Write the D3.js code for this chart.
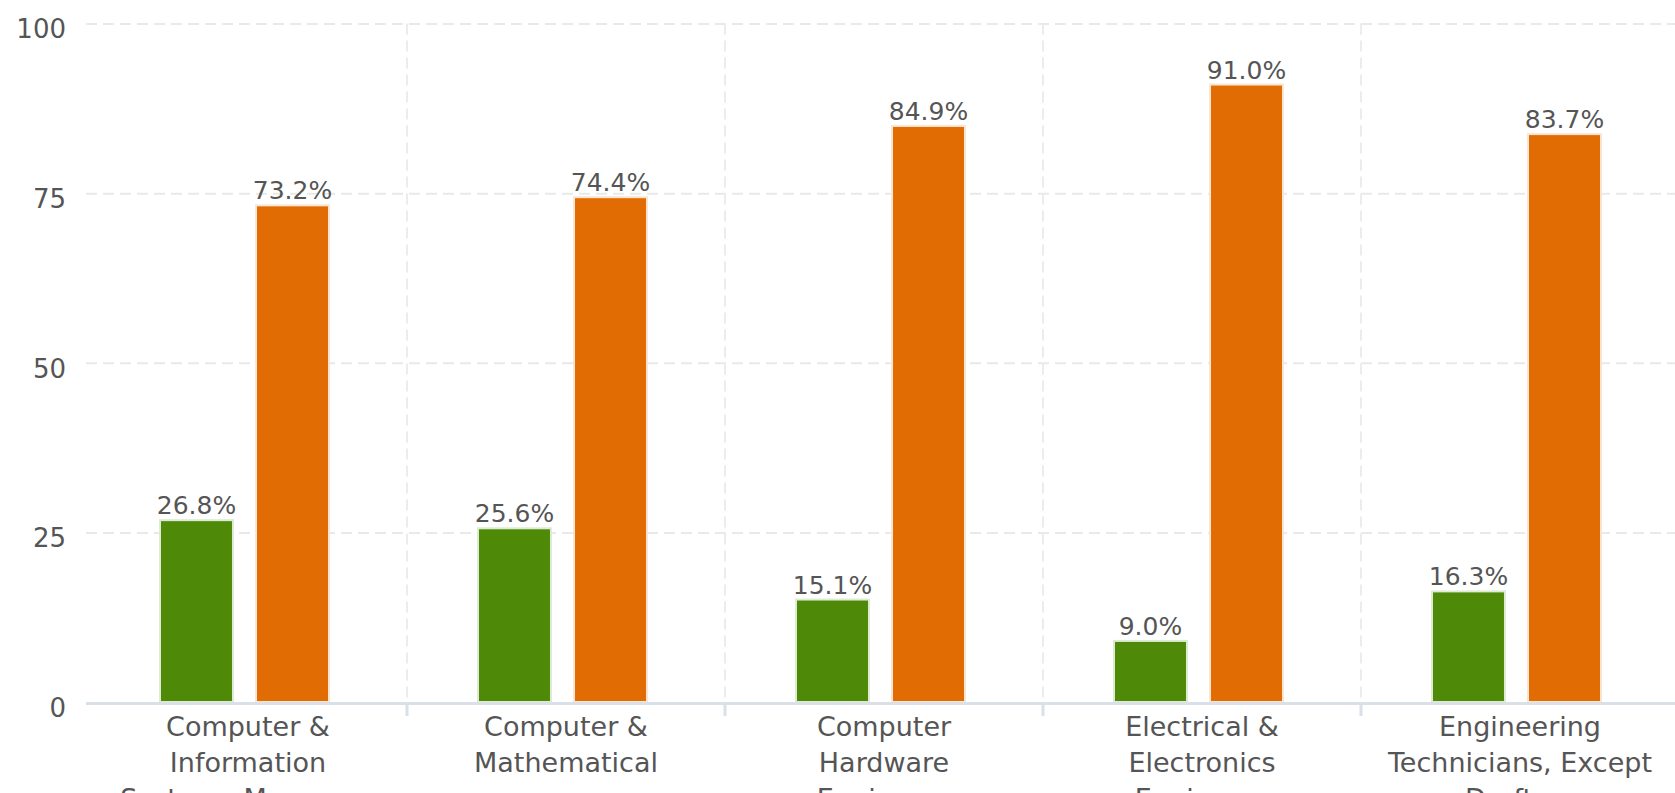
<!DOCTYPE html>
<html>
<head>
<meta charset="utf-8">
<script src="https://cdn.jsdelivr.net/npm/d3@7"></script>
<style>
  body { margin: 0; background: #fff; overflow: hidden; }
  text { font-family: "DejaVu Sans", Verdana, sans-serif; fill: #555; }
</style>
</head>
<body>
<div id="chart"></div>
<script>
// chart values
const categories = [
    "Computer &\nInformation\nSystems Managers",
    "Computer &\nMathematical",
    "Computer\nHardware\nEngineers",
    "Electrical &\nElectronics\nEngineers",
    "Engineering\nTechnicians, Except\nDrafters"
];
const seriesNames = ["Women", "Men"];
const women = [26.8, 25.6, 15.1, 9.0, 16.3];
const men = [73.2, 74.4, 84.9, 91.0, 83.7];
const yTicks = [0, 25, 50, 75, 100];
const colors = ["#4e8907", "#e16c03"];

const chartW = 1675, chartH = 793;
const plotLeft = 89, plotTop = 23.5, plotBottom = 702;
const band = 318;

let svg = d3.select("#chart")
    .append("svg")
    .attr("width", chartW)
    .attr("height", chartH);

let x = d3.scaleBand()
    .domain(categories)
    .range([plotLeft, plotLeft + band * categories.length])
    .padding(0);

let x1 = d3.scaleBand()
    .domain(seriesNames)
    .range([71, 240])
    .paddingInner(0.24);

let y = d3.scaleLinear()
    .domain([0, 100])
    .range([plotBottom, plotTop]);

// horizontal grid + y labels
let yAxis = svg.append("g")
    .attr("transform", `translate(86,0)`)
    .call(d3.axisLeft(y).tickValues(yTicks).tickSize(-(chartW - 86)).tickPadding(20));
yAxis.select(".domain").remove();
yAxis.selectAll(".tick line")
    .attr("stroke", "#e9e9e9")
    .attr("stroke-width", 2)
    .attr("stroke-dasharray", "11,6")
    .attr("opacity", d => d === 0 ? 0 : 1);
yAxis.selectAll(".tick text")
    .attr("font-size", 26)
    .attr("fill", "#555")
    .attr("dy", "0.55em")
    .style("font-family", '"DejaVu Sans", Verdana, sans-serif');

// vertical grid at category boundaries
let bounds = categories.slice(1).map(c => x(c));
svg.append("g").selectAll("line")
    .data(bounds)
    .enter()
    .append("line")
    .attr("x1", d => d).attr("x2", d => d)
    .attr("y1", plotTop).attr("y2", plotBottom)
    .attr("stroke", "#ececec")
    .attr("stroke-width", 2)
    .attr("stroke-dasharray", "11,6");

// bars
let rows = categories.map((c, i) => ({cat: c, values: [women[i], men[i]]}));

let groups = svg.append("g").selectAll("g")
    .data(rows)
    .enter()
    .append("g")
    .attr("transform", d => `translate(${x(d.cat)},0)`);

groups.selectAll("rect")
    .data(d => d.values.map((v, j) => ({name: seriesNames[j], value: v, j: j})))
    .enter()
    .append("rect")
    .attr("x", d => x1(d.name))
    .attr("y", d => y(d.value))
    .attr("width", x1.bandwidth())
    .attr("height", d => plotBottom - y(d.value))
    .attr("fill", d => colors[d.j])
    .attr("stroke", d => d3.interpolateRgb(colors[d.j], "#fff")(0.82))
    .attr("stroke-width", 2);

groups.selectAll("text.lbl")
    .data(d => d.values.map((v, j) => ({name: seriesNames[j], value: v})))
    .enter()
    .append("text")
    .attr("class", "lbl")
    .attr("x", d => x1(d.name) + x1.bandwidth() / 2)
    .attr("y", d => y(d.value) - 6)
    .attr("text-anchor", "middle")
    .attr("font-size", 25)
    .text(d => d.value.toFixed(1) + "%");

// x axis line and ticks
svg.append("line")
    .attr("x1", 86).attr("x2", chartW)
    .attr("y1", plotBottom + 1.5).attr("y2", plotBottom + 1.5)
    .attr("stroke", "#d9e0e8")
    .attr("stroke-width", 3);

svg.append("g").selectAll("line")
    .data(bounds)
    .enter()
    .append("line")
    .attr("x1", d => d).attr("x2", d => d)
    .attr("y1", plotBottom).attr("y2", plotBottom + 14)
    .attr("stroke", "#d9e0e8")
    .attr("stroke-width", 3);

// category labels (third lines run past the bottom edge, as in the source)
let xl = svg.append("g").selectAll("text")
    .data(categories)
    .enter()
    .append("text")
    .attr("x", d => x(d) + band / 2)
    .attr("y", 736)
    .attr("text-anchor", "middle")
    .attr("font-size", 27);

xl.selectAll("tspan")
    .data(d => d.split("\n"))
    .enter()
    .append("tspan")
    .attr("x", function() { return this.parentNode.getAttribute("x"); })
    .attr("dy", (d, i) => i === 0 ? 0 : 36)
    .text(d => d);
</script>
</body>
</html>
